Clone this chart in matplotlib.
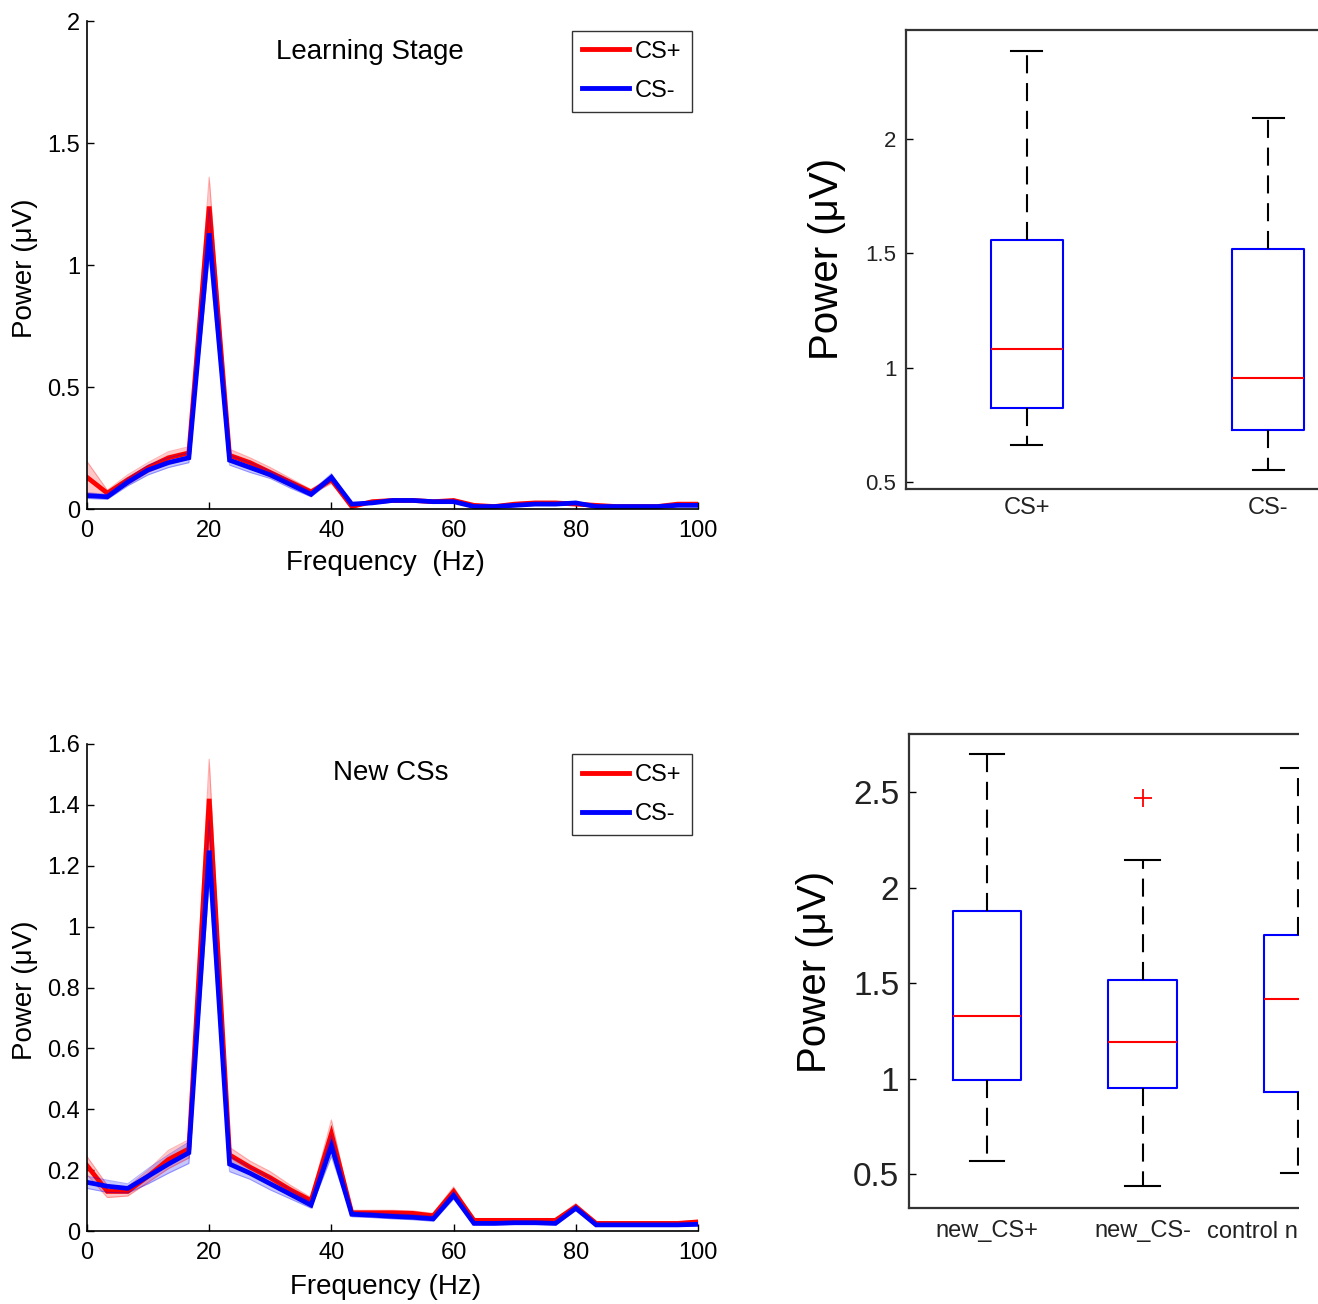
import numpy as np
import matplotlib
matplotlib.use('Agg')
import matplotlib.pyplot as plt
from matplotlib.lines import Line2D
from matplotlib.patches import Rectangle
from matplotlib.ticker import FuncFormatter

plt.rcParams['font.family'] = ['Liberation Sans', 'DejaVu Sans']
plt.rcParams['lines.scale_dashes'] = False

# frequency grid (Hz)
freq = [0, 3.33, 6.67, 10, 13.33, 16.67, 20, 23.33, 26.67, 30, 33.33, 36.67, 40,
        43.33, 46.67, 50, 53.33, 56.67, 60, 63.33, 66.67, 70, 73.33, 76.67, 80,
        83.33, 86.67, 90, 93.33, 96.67, 100]

# learning stage: mean power and sem
learn_plus = [0.13, 0.065, 0.12, 0.17, 0.21, 0.23, 1.24, 0.22, 0.19, 0.15, 0.11, 0.07, 0.12,
              0.01, 0.03, 0.035, 0.035, 0.03, 0.035, 0.015, 0.01, 0.02, 0.025, 0.025, 0.02,
              0.015, 0.01, 0.01, 0.01, 0.02, 0.02]
learn_plus_sem = [0.065, 0.012, 0.02, 0.02, 0.025, 0.025, 0.12, 0.025, 0.02, 0.02, 0.015, 0.01, 0.015,
                  0.005, 0.005, 0.005, 0.005, 0.005, 0.005, 0.005, 0.005, 0.005, 0.005, 0.005, 0.005,
                  0.005, 0.005, 0.005, 0.005, 0.005, 0.005]
learn_minus = [0.055, 0.05, 0.11, 0.16, 0.19, 0.21, 1.13, 0.20, 0.17, 0.14, 0.10, 0.06, 0.13,
               0.02, 0.025, 0.035, 0.035, 0.03, 0.03, 0.01, 0.01, 0.015, 0.02, 0.02, 0.025,
               0.01, 0.01, 0.01, 0.01, 0.015, 0.015]
learn_minus_sem = [0.012, 0.01, 0.015, 0.02, 0.02, 0.02, 0.1, 0.02, 0.02, 0.015, 0.015, 0.01, 0.015,
                   0.005, 0.005, 0.005, 0.005, 0.005, 0.005, 0.005, 0.005, 0.005, 0.005, 0.005, 0.005,
                   0.005, 0.005, 0.005, 0.005, 0.005, 0.005]

# new CSs: mean power and sem
new_plus = [0.215, 0.13, 0.13, 0.18, 0.235, 0.27, 1.42, 0.25, 0.21, 0.175, 0.135, 0.10, 0.32,
            0.06, 0.06, 0.06, 0.058, 0.05, 0.13, 0.035, 0.035, 0.035, 0.035, 0.035, 0.08,
            0.025, 0.025, 0.025, 0.025, 0.025, 0.03]
new_plus_sem = [0.03, 0.02, 0.015, 0.02, 0.03, 0.03, 0.13, 0.025, 0.02, 0.02, 0.015, 0.01, 0.045,
                0.008, 0.008, 0.008, 0.008, 0.008, 0.015, 0.005, 0.005, 0.005, 0.005, 0.005, 0.01,
                0.005, 0.005, 0.005, 0.005, 0.005, 0.005]
new_minus = [0.16, 0.147, 0.14, 0.18, 0.22, 0.257, 1.25, 0.22, 0.19, 0.155, 0.12, 0.085, 0.28,
             0.055, 0.052, 0.048, 0.045, 0.04, 0.117, 0.025, 0.025, 0.027, 0.027, 0.025, 0.075,
             0.02, 0.02, 0.02, 0.02, 0.02, 0.022]
new_minus_sem = [0.02, 0.02, 0.015, 0.025, 0.03, 0.035, 0.1, 0.025, 0.02, 0.02, 0.015, 0.01, 0.035,
                 0.008, 0.008, 0.008, 0.008, 0.008, 0.012, 0.005, 0.005, 0.005, 0.005, 0.005, 0.008,
                 0.005, 0.005, 0.005, 0.005, 0.005, 0.005]

# box plot summaries: whislo, q1, median, q3, whishi
learn_groups = ['CS+', 'CS-']
learn_box = [[0.662, 0.822, 1.08, 1.56, 2.387],
             [0.554, 0.729, 0.955, 1.519, 2.093]]
learn_fliers = [[], []]

# third label is cut off in the original figure, only "control n" shows
new_groups = ['new_CS+', 'new_CS-', 'control n']
new_box = [[0.568, 0.992, 1.328, 1.879, 2.697],
           [0.439, 0.951, 1.189, 1.514, 2.142],
           [0.507, 0.931, 1.416, 1.75, 2.627]]
new_fliers = [[], [2.469], []]

W, H = 1318, 1304
fig = plt.figure(figsize=(W / 100, H / 100), dpi=100)


def pos(x0, x1, y0, y1):
    return [x0 / W, 1 - y1 / H, (x1 - x0) / W, (y1 - y0) / H]


def spectrum(ax, plus, plus_sem, minus, minus_sem, ymax, yticks, title, tpos, xlab, xl_y, leg_y):
    f = np.array(freq)
    for m, s, c in [(plus, plus_sem, 'red'), (minus, minus_sem, 'blue')]:
        m = np.array(m)
        s = np.array(s)
        ax.fill_between(f, m - s, m + s, color=c, alpha=0.22, lw=0)
        ax.plot(f, m + s, color=c, alpha=0.3, lw=0.8)
        ax.plot(f, m - s, color=c, alpha=0.3, lw=0.8)
        ax.plot(f, m, color=c, lw=3.4, solid_joinstyle='miter')
    ax.set_xlim(0, 100)
    ax.set_ylim(0, ymax)
    ax.set_xticks([0, 20, 40, 60, 80, 100])
    ax.set_yticks(yticks)
    ax.yaxis.set_major_formatter(FuncFormatter(lambda v, p: '%g' % v))
    ax.tick_params(direction='in', length=5, width=1, labelsize=17)
    ax.tick_params(axis='x', pad=8)
    ax.tick_params(axis='y', pad=5)
    for s in ['top', 'right']:
        ax.spines[s].set_visible(False)
    for s in ['left', 'bottom']:
        ax.spines[s].set_linewidth(1.2)
    ax.text(tpos[0], tpos[1], title, transform=ax.transAxes, ha='center', va='center', fontsize=20)
    ax.set_xlabel(xlab, fontsize=20)
    ax.xaxis.label.set_va('center')
    ax.xaxis.set_label_coords(0.489, xl_y)
    ax.set_ylabel('Power (μV)', fontsize=20)
    ax.yaxis.label.set_va('center')
    ax.yaxis.set_label_coords(-0.101, 0.494)
    handles = [Line2D([], [], color='red', lw=3.5), Line2D([], [], color='blue', lw=3.5)]
    leg = ax.legend(handles, ['CS+', 'CS-'], loc='upper left', bbox_to_anchor=(0.794, leg_y),
                    fontsize=17, frameon=True, fancybox=False, handlelength=2.0,
                    handletextpad=0.25, labelspacing=0.72, borderpad=0.42, borderaxespad=0)
    leg.get_frame().set_edgecolor('black')
    leg.get_frame().set_linewidth(1.0)


def boxes(ax, stats, fliers, labels, width, capw, ylim, yticks, xlim, tick_size, lab_size, ylab_xy, xpad):
    data = []
    for s, fl, lab in zip(stats, fliers, labels):
        data.append(dict(whislo=s[0], q1=s[1], med=s[2], q3=s[3], whishi=s[4], fliers=fl, label=lab))
    ax.bxp(data, positions=list(range(1, len(data) + 1)), widths=width,
           capwidths=capw, showfliers=True,
           boxprops=dict(color='blue', lw=1.5),
           medianprops=dict(color='red', lw=1.5),
           whiskerprops=dict(color='black', lw=1.5, linestyle=(0, (13, 7))),
           capprops=dict(color='black', lw=1.5),
           flierprops=dict(marker='+', markeredgecolor='red', markersize=13, markeredgewidth=1.3))
    ax.set_xlim(*xlim)
    ax.set_ylim(*ylim)
    ax.set_yticks(yticks)
    ax.yaxis.set_major_formatter(FuncFormatter(lambda v, p: '%g' % v))
    ax.tick_params(axis='y', direction='in', length=5, width=1, labelsize=tick_size, pad=7,
                   labelcolor='#222222')
    ax.tick_params(axis='x', length=0, labelsize=lab_size, pad=xpad, labelcolor='#222222')
    ax.spines['right'].set_visible(False)
    for s in ['left', 'bottom', 'top']:
        ax.spines[s].set_linewidth(1.6)
        ax.spines[s].set_color('#333333')
    ax.set_ylabel('Power (μV)', fontsize=29)
    ax.yaxis.label.set_va('center')
    ax.yaxis.set_label_coords(*ylab_xy)


ax1 = fig.add_axes(pos(87, 698, 21, 509))
spectrum(ax1, learn_plus, learn_plus_sem, learn_minus, learn_minus_sem, 2,
         [0, 0.5, 1, 1.5, 2], 'Learning Stage', (0.463, 0.936), 'Frequency  (Hz)', -0.111, 0.98)

ax3 = fig.add_axes(pos(87, 698, 744, 1231))
spectrum(ax3, new_plus, new_plus_sem, new_minus, new_minus_sem, 1.6,
         [0, 0.2, 0.4, 0.6, 0.8, 1, 1.2, 1.4, 1.6], 'New CSs', (0.4975, 0.94), 'Frequency (Hz)', -0.115, 0.979)

ax2 = fig.add_axes(pos(906, 1389, 30, 489))
boxes(ax2, learn_box, learn_fliers, learn_groups, 0.3, 0.13, (0.47, 2.477),
      [0.5, 1, 1.5, 2], (0.5, 2.5), 16, 17, (-0.1636, 0.501), 6)

ax4 = fig.add_axes(pos(909, 1376, 734, 1208))
boxes(ax4, new_box, new_fliers, new_groups, 0.44, 0.22, (0.322, 2.804),
      [0.5, 1, 1.5, 2, 2.5], (0.5, 3.5), 24, 17, (-0.2013, 0.498), 9)
# the cut label ends where the panel is cut
ax4.get_xticklabels()[2].set_ha('right')

# the lower right panel is cut off in the original figure
fig.add_artist(Rectangle((1299 / W, 0), 30 / W, 600 / H, transform=fig.transFigure,
                         facecolor='white', edgecolor='none', zorder=20))

fig.savefig('out.png', dpi=100)
